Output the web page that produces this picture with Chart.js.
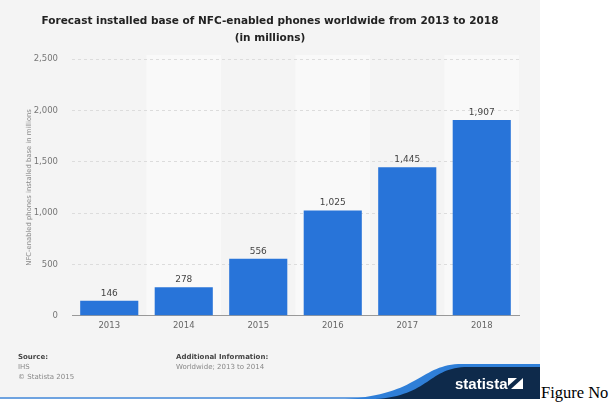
<!DOCTYPE html>
<html>
<head>
<meta charset="utf-8">
<script src="https://cdn.jsdelivr.net/npm/chart.js@4/dist/chart.umd.min.js"></script>
<style>
  body { margin: 0; background: #fff; width: 609px; height: 402px; overflow: hidden; position: relative; }
  #wrap { position: absolute; left: 0; top: 0; width: 540px; height: 399px; }
  #fig { position: absolute; left: 541px; top: 385px; font-family: "Liberation Serif", serif; font-size: 16.5px; line-height: 16px; color: #000; white-space: nowrap; }
</style>
</head>
<body>
<div id="wrap"><canvas id="graph"></canvas></div>
<div id="fig">Figure No</div>
<script>
/* data */
var years = ["2013", "2014", "2015", "2016", "2017", "2018"];
var phones = [146, 278, 556, 1025, 1445, 1907];
var yTicks = [0, 500, 1000, 1500, 2000, 2500];
var titleLines = ["Forecast installed base of NFC-enabled phones worldwide from 2013 to 2018", "(in millions)"];

var fontName = "'DejaVu Sans', sans-serif";

// panel background, alternating column bands, title, footer and logo
var decor = {
    id: "decor",
    beforeDraw: function (chart) {
        var c = chart.ctx;
        c.save();
        c.fillStyle = "#f4f4f4";
        c.fillRect(0, 0, chart.width, chart.height);
        var x = chart.scales.x, area = chart.chartArea;
        var w = (area.right - area.left) / years.length;
        c.fillStyle = "#f9f9f9";
        years.forEach(function (y, i) {
            if (i % 2 == 1) {
                var cx = x.getPixelForValue(i);
                c.fillRect(cx - w / 2, area.top - 4, w, area.bottom - area.top + 4);
            }
        });
        // title, centred on the whole panel
        c.fillStyle = "#222";
        c.font = "bold 10.5px " + fontName;
        c.textAlign = "center";
        c.textBaseline = "middle";
        c.fillText(titleLines[0], chart.width / 2, 21);
        c.fillText(titleLines[1], chart.width / 2, 38);
        c.restore();
    },
    afterDraw: function (chart) {
        var c = chart.ctx;
        var W = chart.width, H = chart.height;
        c.save();
        // footer text
        c.textBaseline = "middle";
        c.font = "bold 7px " + fontName;
        c.fillStyle = "#444";
        c.fillText("Source:", 18, 357);
        c.fillText("Additional Information:", 176, 357);
        c.font = "7px " + fontName;
        c.fillStyle = "#888";
        c.fillText("IHS", 18, 367);
        c.fillText("\u00A9 Statista 2015", 18, 377);
        c.fillText("Worldwide; 2013 to 2014", 176, 367);

        // bottom line
        c.fillStyle = "#6ea3e0";
        c.fillRect(0, H - 2, W, 2);
        // wave (blue)
        c.fillStyle = "#2f7fd8";
        c.beginPath();
        c.moveTo(345, H);
        c.bezierCurveTo(420, H - 4, 420, H - 35, 462, H - 35);
        c.lineTo(W, H - 35);
        c.lineTo(W, H);
        c.closePath();
        c.fill();
        // wave (navy)
        c.fillStyle = "#0e2a4b";
        c.beginPath();
        c.moveTo(375, H);
        c.bezierCurveTo(430, H - 3, 428, H - 32, 468, H - 32);
        c.lineTo(W, H - 32);
        c.lineTo(W, H);
        c.closePath();
        c.fill();
        // logo
        c.fillStyle = "#fff";
        c.font = "bold 15px 'Liberation Sans', sans-serif";
        c.textBaseline = "alphabetic";
        c.fillText("statista", 455, 389);
        c.beginPath();
        c.moveTo(508, 389);
        c.lineTo(508, 378);
        c.lineTo(517, 378);
        c.lineTo(508, 386);
        c.closePath();
        c.fill();
        c.beginPath();
        c.moveTo(523, 378);
        c.lineTo(523, 389);
        c.lineTo(511, 389);
        c.closePath();
        c.fill();
        c.restore();
    }
};

// value labels above the bars
var valueLabels = {
    id: "valueLabels",
    afterDatasetsDraw: function (chart) {
        var c = chart.ctx;
        c.save();
        c.font = "9px " + fontName;
        c.fillStyle = "#444";
        c.textAlign = "center";
        c.textBaseline = "bottom";
        chart.getDatasetMeta(0).data.forEach(function (bar, i) {
            c.fillText(phones[i].toLocaleString("en-US"), bar.x, bar.y - 3);
        });
        c.restore();
    }
};

var graph = document.getElementById("graph").getContext("2d");

var myChart = new Chart(graph, {
    type: "bar",
    data: {
        labels: years,
        datasets: [{
            label: "NFC-enabled phones",
            data: phones,
            backgroundColor: "#2874d9",
            barPercentage: 0.78,
            categoryPercentage: 1,
        }],
    },
    options: {
        responsive: true,
        maintainAspectRatio: false,
        animation: false,
        layout: {
            padding: { left: 0, right: 21, top: 59, bottom: 63 },
        },
        plugins: {
            legend: { display: false },
            tooltip: { enabled: false },
            title: { display: false },
        },
        scales: {
            x: {
                grid: { display: false, drawTicks: false },
                border: { color: "#999", width: 1 },
                ticks: { color: "#666", font: { family: fontName, size: 8.5 }, padding: 5 },
            },
            y: {
                min: 0,
                max: 2500,
                afterBuildTicks: function (scale) {
                    scale.ticks = yTicks.map(function (v) { return { value: v }; });
                },
                afterFit: function (scale) { scale.width = 72; },
                grid: { color: "#dcdcdc", drawTicks: false },
                border: { display: false, dash: [3, 3] },
                ticks: { color: "#777", font: { family: fontName, size: 8.5 }, padding: 14 },
                title: {
                    display: true,
                    text: "NFC-enabled phones installed base in millions",
                    color: "#888",
                    font: { family: fontName, size: 6.8 },
                    padding: { top: 25, bottom: 0 },
                },
            },
        },
    },
    plugins: [decor, valueLabels],
});
</script>
</body>
</html>
